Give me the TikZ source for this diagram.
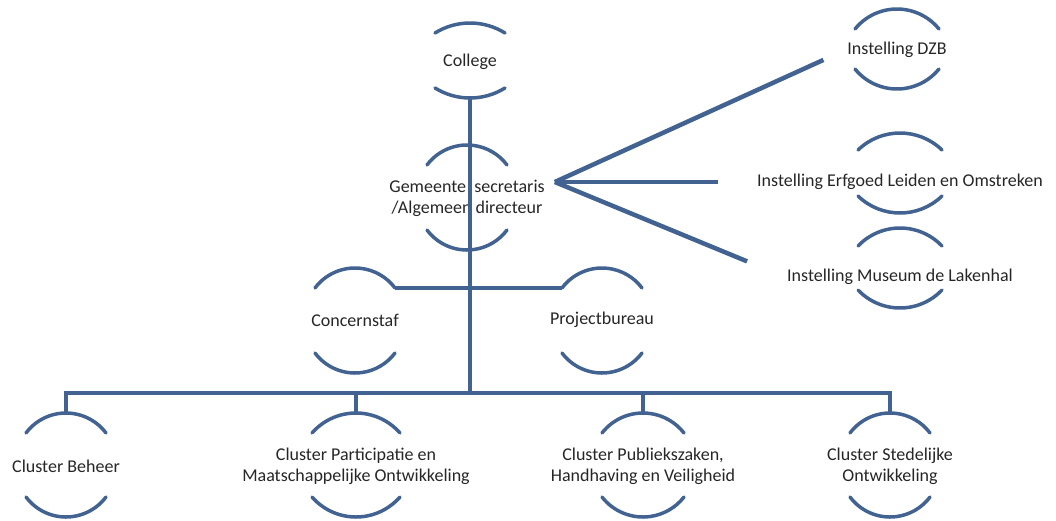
\documentclass[tikz,border=0pt]{standalone}
\usepackage{fontspec}
\setmainfont{Carlito}
\usepackage{tikz}

\definecolor{orgblue}{RGB}{66,99,145}
\tikzset{
  unit/.style={font=\fontsize{18}{21}\selectfont, text=black!85, align=center, inner sep=2pt},
  orgline/.style={draw=orgblue, line width=4.5pt},
  capline/.style={draw=orgblue, line width=3.5pt, line cap=round},
}
% arcs above and below a unit: name, half width, top, bottom, drop
\newcommand{\caps}[5]{%
  \pgfmathsetmacro\capr{(#2*#2+#5*#5)/(2*#5)}
  \pgfmathsetmacro\capf{asin((\capr-#5)/\capr)}
  \draw[capline] ([shift={(-#2,-#3+#5)}]#1.center) arc[start angle=180+\capf, end angle=360-\capf, radius=\capr];
  \draw[capline] ([shift={(-#2,#4-#5)}]#1.center) arc[start angle=180-\capf, end angle=\capf, radius=\capr];
}

\begin{document}
\begin{tikzpicture}[x=1pt,y=-1pt]
    \useasboundingbox (0,0) rectangle (1056,520);
    \node[unit] (coll) at (470,62) {College};
    \node[unit] (gem) at (467,198) {Gemeente\ \ secretaris\\/Algemeen directeur};
    \node[unit] (dzb) at (897,50) {Instelling DZB};
    \node[unit] (erf) at (900,182) {Instelling Erfgoed Leiden en Omstreken};
    \node[unit] (mus) at (900,277) {Instelling Museum de Lakenhal};
    \node[unit] (conc) at (355,320) {Concernstaf};
    \node[unit] (proj) at (602,320) {Projectbureau};
    \node[unit] (beh) at (66,466) {Cluster Beheer};
    \node[unit] (part) at (356,466) {Cluster Participatie en\\Maatschappelijke Ontwikkeling};
    \node[unit] (pub) at (643,466) {Cluster Publiekszaken,\\Handhaving en Veiligheid};
    \node[unit] (sted) at (890,466) {Cluster Stedelijke\\Ontwikkeling};
    \coordinate (bus) at (470,393);
    \coordinate (fan) at ([shift={(8,-16)}]gem.east);

    \caps{coll}{35}{39}{36}{10}
    \caps{gem}{40}{53}{52}{20}
    \caps{dzb}{42}{41}{39}{20}
    \caps{erf}{42}{49}{31}{17}
    \caps{mus}{42}{49}{31}{18}
    \caps{conc}{40}{52}{53}{20}
    \caps{proj}{40}{52}{53}{20}
    \caps{beh}{40}{53}{51}{20}
    \caps{part}{44}{53}{51}{20}
    \caps{pub}{41}{53}{51}{20}
    \caps{sted}{40}{53}{51}{20}

    \draw[orgline] ([shift={(0,36)}]coll.center) -- (bus);
    \draw[orgline] ([shift={(40,-32)}]conc.center) -- ([shift={(-40,-32)}]proj.center);
    \draw[orgline] ([shift={(0,-53)}]beh.center) |- (bus) -| ([shift={(0,-53)}]sted.center);
    \foreach \c in {part,pub}
        \draw[orgline] (\c |- bus) -- ([shift={(0,-53)}]\c.center);
    \foreach \t/\s in {dzb/24,erf/37,mus/41}
        \draw[orgline, shorten >=\s pt] (fan) -- (\t.west);
\end{tikzpicture}
\end{document}
